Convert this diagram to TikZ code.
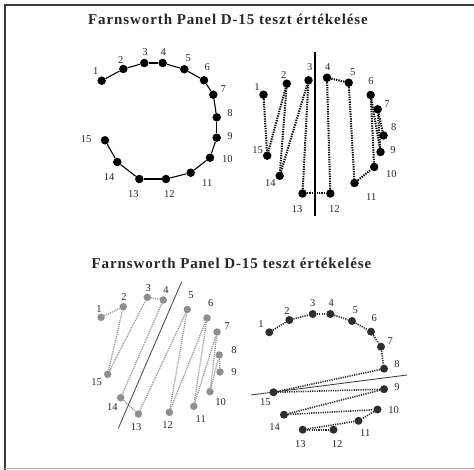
\documentclass[tikz,border=0pt]{standalone}
\usepackage{fontspec}
\setmainfont{Liberation Serif}
\usetikzlibrary{positioning}
\definecolor{framegray}{HTML}{3A3A3A}
\definecolor{dotgray}{HTML}{8E8E8E}
\definecolor{darkdot}{HTML}{2E2E2E}

\begin{document}
\begin{tikzpicture}[
  x=1pt,y=-1pt,
  dot/.style={circle,fill=black,inner sep=0pt,minimum size=8.5pt},
  greydot/.style={circle,fill=dotgray,inner sep=0pt,minimum size=7.5pt},
  darkball/.style={circle,fill=darkdot,inner sep=0pt,minimum size=8pt},
  num/.style={font=\fontsize{10.5}{12}\selectfont,inner sep=0pt,text=black!85},
  caption/.style={font=\fontsize{15}{16}\selectfont\bfseries\addfontfeature{LetterSpace=6},text=black!85},
  solidlink/.style={line width=1.1pt},
  dotlink/.style={line width=2pt,dash pattern=on 1.3pt off 1.1pt},
  greylink/.style={dotgray,line width=1.3pt,dash pattern=on 1pt off 1pt},
  darklink/.style={darkdot,line width=1.6pt,dash pattern=on 1.2pt off 1.1pt},
  axisline/.style={line width=0.8pt}
]
\useasboundingbox (0,0) rectangle (474,470);
% frame of the scan
\draw[framegray,line width=2.2pt] (474,5) -- (5,5) -- (5,470);
\draw[black!30,line width=0.8pt] (5,468.5) -- (474,468.5);

% upper half
\node[caption] (title1) at (228,19) {Farnsworth Panel D-15 teszt értékelése};

\foreach \n/\x/\y/\lx/\ly in {1/101.7/80.7/95.7/71.3, 2/123.3/69/120.7/60,
  3/144.3/63/145/51.7, 4/162.7/63/163.3/51.7, 5/184.3/69.3/188.3/58.3,
  6/204/80.3/207.3/66.7, 7/213.3/94.7/223.3/89.3, 8/216.7/117.3/230/113.3,
  9/216.7/137.7/230/136, 10/210/157.7/227.3/159, 11/190.7/172.7/207.3/183,
  12/166/179/169.3/194.3, 13/139.3/179/133.3/194.3, 14/117.3/162/109/176.7,
  15/105/140.3/86/138.7}{
  \node[dot] (a\n) at (\x,\y) {};
  \node[num] (la\n) at (\lx,\ly) {\n};
}
\foreach \p/\q in {1/2,2/3,3/4,4/5,5/6,6/7,7/8,8/9,9/10,10/11,11/12,12/13,13/14,14/15}
  \draw[solidlink] (a\p) -- (a\q);

\foreach \n/\x/\y/\lx/\ly in {1/263.5/94.7/257/87.3, 2/286.8/83.7/283.7/75,
  3/308.5/80.3/309.7/66.7, 4/327/77.7/327.7/66.7, 5/348.7/82.7/352.7/71.7,
  6/370.7/95/371/80.7, 7/377.7/109.3/387/104, 8/383.5/135.5/393.7/126.7,
  9/380.5/152/393/150, 10/374.2/167/391.3/174, 11/354.5/183/371.3/196.7,
  12/330.3/193.5/334.3/209, 13/302.5/193.5/297/209, 14/279.7/175.8/270.3/182.7,
  15/267.2/155.7/257.7/150}{
  \node[dot] (b\n) at (\x,\y) {};
  \node[num] (lb\n) at (\lx,\ly) {\n};
}
\foreach \p/\q in {1/15,15/2,2/14,14/3,3/13,13/12,12/4,4/5,5/11,11/10,10/6,6/9,9/7,7/8}
  \draw[dotlink] (b\p) -- (b\q);
\coordinate (btop) at (314.7,51.7);
\coordinate (bbot) at (314.7,216);
\draw[line width=1.8pt] (btop) -- (bbot);

% lower half
\node[caption] (title2) at (231.5,263) {Farnsworth Panel D-15 teszt értékelése};

\foreach \n/\x/\y/\lx/\ly in {1/101/317.3/99/309, 2/123.3/306.7/124/296.7,
  3/147.3/297.3/148.3/288.3, 4/163.3/300/166/290, 5/187.3/309.5/191/295,
  6/207/318/210.7/303.3, 7/217/332/227.3/326, 8/219.2/355/234/350,
  9/220/372/234/371.7, 10/210/391.7/220.7/401.7, 11/193.8/406.3/200.7/419,
  12/169.3/412.3/167.7/425, 13/138.3/414/136/427.3, 14/120.7/397.7/112.3/407.3,
  15/107.7/374.3/96.7/381.7}{
  \node[greydot] (c\n) at (\x,\y) {};
  \node[num] (lc\n) at (\lx,\ly) {\n};
}
\foreach \p/\q in {1/2,2/15,15/3,3/4,4/14,14/13,13/5,5/12,12/6,6/11,11/7,7/10,10/8,8/9}
  \draw[greylink] (c\p) -- (c\q);
\coordinate (ctop) at (181.7,281.7);
\coordinate (cbot) at (118.3,428.3);
\draw[axisline,black!75] (ctop) -- (cbot);

\foreach \n/\x/\y/\lx/\ly in {1/269.3/332.3/261/324, 2/289.3/320/287/311,
  3/312.7/314/312.7/302.7, 4/330.3/314/331.3/302.7, 5/352/321/355.3/310,
  6/371/331.7/374.3/318.3, 7/381/346.7/390.3/340.7, 8/384/368.7/397/364.3,
  9/384/389.2/397/386.7, 10/377.5/409.5/393.7/410, 11/358.5/420.8/365.3/432.7,
  12/333.5/429.7/337/444, 13/302.7/429.7/300.3/444, 14/284/414.7/274.7/427.3,
  15/273.5/392.3/265.3/401.7}{
  \node[darkball] (d\n) at (\x,\y) {};
  \node[num] (ld\n) at (\lx,\ly) {\n};
}
\foreach \p/\q in {1/2,2/3,3/4,4/5,5/6,6/7,7/8,8/15,15/9,9/14,14/10,10/11,11/13,13/12}
  \draw[darklink] (d\p) -- (d\q);
\coordinate (dleft) at (251,395);
\coordinate (dright) at (407,375);
\draw[axisline,black!80] (dleft) -- (dright);
\end{tikzpicture}
\end{document}
